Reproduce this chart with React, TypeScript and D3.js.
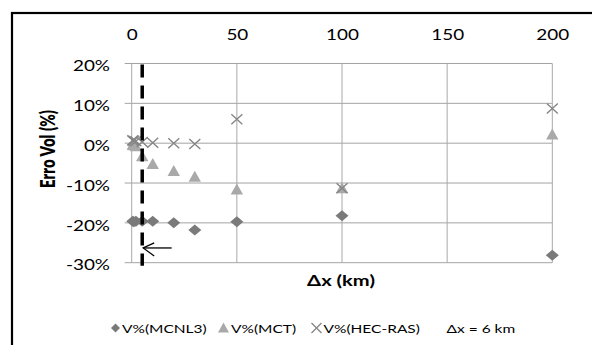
import React from "react";
import * as d3 from "d3";

// values (Δx in km, errors in %)
const dx = [0.5, 1, 2, 5, 10, 20, 30, 50, 100, 200];
const mcnl3 = [-19.6, -19.7, -19.6, -19.6, -19.6, -20.0, -21.8, -19.7, -18.2, -28.1];
const mct = [-0.4, -0.5, -0.8, -3.3, -5.2, -7.0, -8.4, -11.6, -11.3, 2.2];
const hecras = [0.7, 0.6, 0.5, 0.3, 0.1, 0.0, -0.2, 6.0, -11.3, 8.7];
const xTicks = [0, 50, 100, 150, 200];
const yTicks = [20, 10, 0, -10, -20, -30];
const dashX = 5;
const seriesNames = ["V%(MCNL3)", "V%(MCT)", "V%(HEC-RAS)"];
const noteLabel = "Δx = 6 km";

const W = 592;
const H = 345;
const FONT = "Lato, 'Open Sans', sans-serif";
const SX = 1.26;

const diamond = "M0,-5.5L6.5,0L0,5.5L-6.5,0Z";
const triangle = "M0,-6L6.2,5L-6.2,5Z";
const cross = "M-5.5,-5L5.5,5M-5.5,5L5.5,-5";

function Txt({ x, y, anchor = "start", size = 15, bold = false, children }) {
  return (
    <text
      transform={`translate(${x},${y}) scale(${SX},1)`}
      textAnchor={anchor}
      dominantBaseline="central"
      fontFamily={FONT}
      fontSize={size}
      fontWeight={bold ? "bold" : "normal"}
      fill="#000"
    >
      {children}
    </text>
  );
}

export default function App() {
  const x = d3.scaleLinear().domain([0, 200]).range([131.7, 552.3]);
  const y = d3.scaleLinear().domain([-30, 20]).range([262.7, 63.5]);
  const [x0, x1] = x.range();
  const [yb, yt] = y.range();

  const legendY = 328;
  const arrowY = y(-26.3);
  const tipX = x(dashX) + 1;

  return (
    <svg
      width={W}
      height={H}
      style={{ position: "absolute", left: 0, top: 0, background: "#fff" }}
    >
      <rect x={0} y={0} width={W} height={H} fill="#fff" />
      {/* chart frame (runs past the picture edges) */}
      <rect x={12} y={13} width={W + 40} height={H + 40} fill="none" stroke="#000" strokeWidth={2.2} />

      {/* grid */}
      {yTicks.map(t => (
        <line key={"h" + t} x1={x0 - 7} x2={x1} y1={y(t)} y2={y(t)} stroke="#a3a3a3" strokeWidth={1} />
      ))}
      {xTicks.map(t => (
        <line key={"v" + t} x1={x(t)} x2={x(t)} y1={yt} y2={yb} stroke="#a8a8a8" strokeWidth={1} />
      ))}

      {/* tick labels */}
      {xTicks.map(t => (
        <Txt key={"xl" + t} x={x(t) + 0.5} y={34} anchor="middle" size={15}>
          {t}
        </Txt>
      ))}
      {yTicks.map(t => (
        <Txt key={"yl" + t} x={110} y={y(t) + 2} anchor="end" size={15}>
          {t + "%"}
        </Txt>
      ))}

      {/* axis titles */}
      <Txt x={341} y={280} anchor="middle" size={16} bold>
        Δx (km)
      </Txt>
      <text
        transform={`translate(46.5,149) scale(1.4,1) rotate(-90)`}
        textAnchor="middle"
        dominantBaseline="central"
        fontFamily={FONT}
        fontSize={15}
        fontWeight={800}
      >
        Erro Vol (%)
      </text>

      {/* series */}
      {dx.map((d, i) => (
        <path key={"a" + i} d={diamond} transform={`translate(${x(d)},${y(mcnl3[i])})`} fill="#7a7a7a" />
      ))}
      {dx.map((d, i) => (
        <path key={"b" + i} d={triangle} transform={`translate(${x(d)},${y(mct[i])})`} fill="#a9a9a9" />
      ))}
      {dx.map((d, i) => (
        <path
          key={"c" + i}
          d={cross}
          transform={`translate(${x(d)},${y(hecras[i])})`}
          fill="none"
          stroke="#858585"
          strokeWidth={1.4}
        />
      ))}

      {/* dashed Δx line */}
      <line
        x1={x(dashX)}
        x2={x(dashX)}
        y1={yt + 1}
        y2={yb + 3}
        stroke="#000"
        strokeWidth={3.5}
        strokeDasharray="13 8"
      />

      {/* arrow */}
      <g stroke="#000" strokeWidth={1.3} fill="none">
        <line x1={x(19)} x2={tipX} y1={arrowY} y2={arrowY} />
        <path d={`M${tipX + 11},${arrowY - 5}L${tipX},${arrowY}L${tipX + 11},${arrowY + 8}`} />
      </g>

      {/* legend */}
      <path d="M0,-4.5L4.5,0L0,4.5L-4.5,0Z" transform={`translate(115.5,${legendY})`} fill="#7a7a7a" />
      <Txt x={122} y={legendY} size={12.3}>
        {seriesNames[0]}
      </Txt>
      <path d="M0,-5.5L5.5,4.5L-5.5,4.5Z" transform={`translate(223.5,${legendY})`} fill="#a9a9a9" />
      <Txt x={231} y={legendY} size={12.3}>
        {seriesNames[1]}
      </Txt>
      <path
        d="M-5,-5L5,5M-5,5L5,-5"
        transform={`translate(316.5,${legendY})`}
        stroke="#858585"
        strokeWidth={1.3}
        fill="none"
      />
      <Txt x={323.5} y={legendY} size={12.3}>
        {seriesNames[2]}
      </Txt>
      <Txt x={446.5} y={legendY} size={12.3}>
        {noteLabel}
      </Txt>
    </svg>
  );
}
